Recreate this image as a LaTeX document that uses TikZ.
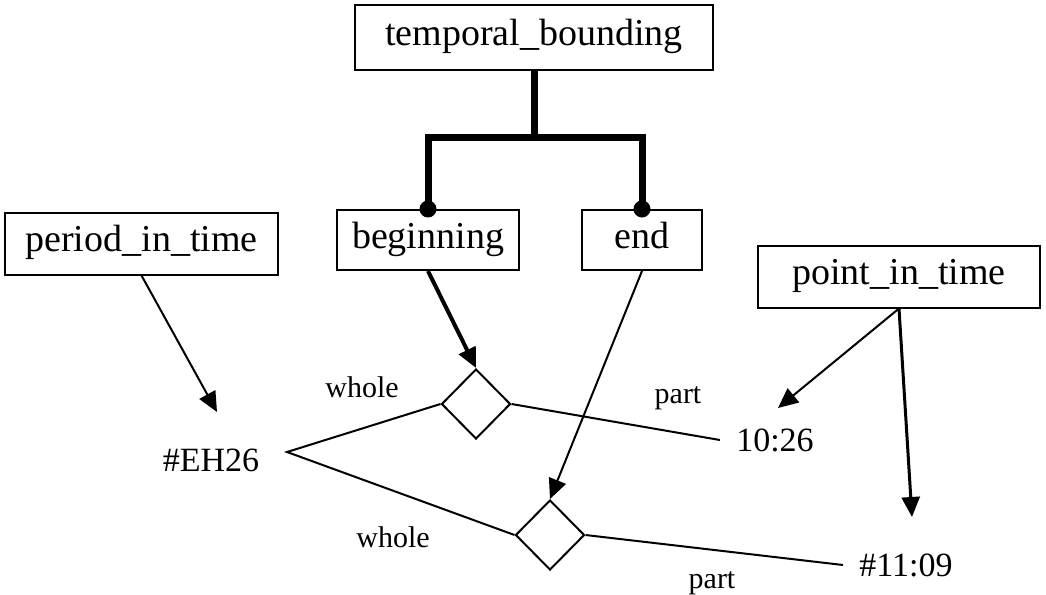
\documentclass[tikz,border=0pt]{standalone}
\usepackage{fontspec}
\setmainfont{Liberation Serif}
\usetikzlibrary{shapes.geometric,arrows.meta}
\begin{document}
\begin{tikzpicture}[x=0.5pt,y=-0.5pt,
    box/.style={shape=rectangle,draw=black,line width=1pt,inner sep=0pt,minimum height=31pt,text height=1em,text depth=0.2em,font=\fontsize{19}{23}\selectfont},
    rel/.style={shape=diamond,draw=black,line width=1pt,inner sep=0pt,minimum width=34.5pt,minimum height=35pt},
    role/.style={font=\fontsize{15}{18}\selectfont},
    val/.style={inner xsep=8pt,font=\fontsize{17}{20}\selectfont},
    tip/.style={-{Triangle[length=10pt,width=9pt]}}]
        \useasboundingbox (0,0) rectangle (1046,595);
        \node[box,minimum width=179pt,minimum height=32.5pt] (TB) at (534,37) {temporal\_bounding};
        \node[box,minimum width=91pt,minimum height=30pt] (B) at (428,240) {beginning};
        \node[box,minimum width=60pt,minimum height=30pt] (E) at (642,240) {end};
        \node[box,minimum width=136.5pt] (P) at (141.5,243.5) {period\_in\_time};
        \node[box,minimum width=141pt] (T) at (899,276.5) {point\_in\_time};
        \node[rel] (R1) at (476,404) {};
        \node[rel] (R2) at (550,535) {};
        \node[val] (EH) at (211,460) {\#EH26};
        \node[val] (V1) at (775,440) {10:26};
        \node[val] (V2) at (906,565) {\#11:09};
        \node[role] (W1) at (362,387) {whole};
        \node[role] (W2) at (393,537) {whole};
        \node[role] (A1) at (678,398) {part};
        \node[role] (A2) at (712,583) {part};
        \coordinate (fork) at (534,137);
        \coordinate (EHr) at (287,452);
        \coordinate (EHtip) at (217,412);
        \coordinate (V1tip) at (778,408);
        \coordinate (V2tip) at (912,517);
        % tree
        \draw[line width=3.5pt] (TB.south) -- (fork);
        \draw[line width=3.5pt] (B.north) |- (fork) -| (E.north);
        \fill (B.north) circle (4.25pt);
        \fill (E.north) circle (4.25pt);
        % arrows
        \path [tip,line width=1pt](P.south) edge (EHtip);
        \path [tip,line width=2pt](B.south) edge (R1.north);
        \path [tip,line width=1pt](E.south) edge (R2.north);
        \path [tip,line width=1pt](T.south) edge (V1tip);
        \path [tip,line width=1.5pt](T.south) edge (V2tip);
        % whole / part
        \draw[line width=1pt] (R1.west) -- (EHr) -- (R2.west);
        \draw[line width=1pt] (R1.east) -- (V1.west);
        \draw[line width=1pt] (R2.east) -- (V2.west);
    \end{tikzpicture}
\end{document}
